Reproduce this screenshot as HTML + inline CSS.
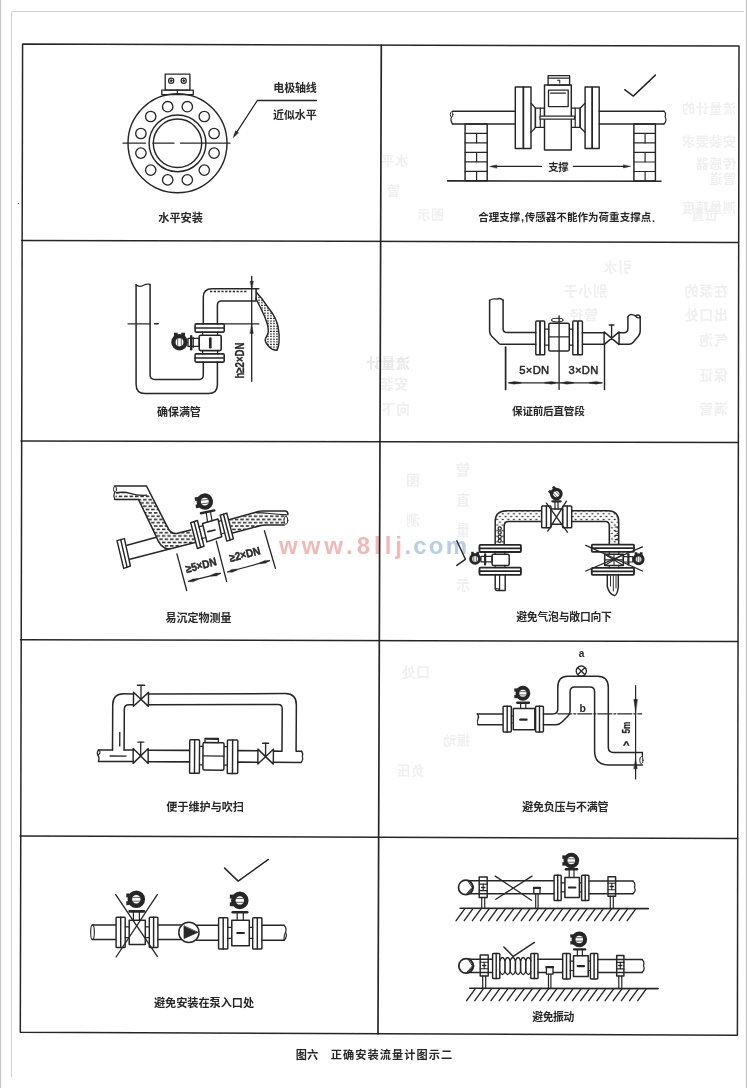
<!DOCTYPE html>
<html><head><meta charset="utf-8"><title>fig</title><style>html,body{margin:0;padding:0;background:#fff;overflow:hidden}svg{display:block}</style></head><body>
<svg width="747" height="1088" viewBox="0 0 747 1088">
<defs><filter id="bl" x="-5%" y="-5%" width="110%" height="110%"><feGaussianBlur stdDeviation="0.35"/></filter><filter id="bl2" x="-5%" y="-20%" width="110%" height="140%"><feGaussianBlur stdDeviation="0.5"/></filter></defs>
<rect x="0" y="0" width="747" height="1088" fill="#ffffff"/>
<rect x="0" y="0" width="1.1" height="1088" fill="#c6c6c6"/>
<rect x="745.8" y="0" width="1.2" height="1088" fill="#c4c4c4"/>
<path d="M11.5 1077V11.5H744" fill="none" stroke="#d2d2d2" stroke-width="1"/>
<g font-family="&quot;Liberation Sans&quot;, &quot;Noto Sans CJK SC&quot;, sans-serif" font-weight="bold" font-size="13" letter-spacing="0.65" fill="#f0f0f0">
<g filter="url(#bl2)"><text transform="translate(736 112.94) scale(-1 1)">流量计的</text></g>
<g filter="url(#bl2)"><text transform="translate(736 145.94) scale(-1 1)">安装要求</text></g>
<g filter="url(#bl2)"><text transform="translate(736 167.94) scale(-1 1)">传感器</text></g>
<g filter="url(#bl2)"><text transform="translate(736 182.94) scale(-1 1)">管道</text></g>
<g filter="url(#bl2)"><text transform="translate(736 211.94) scale(-1 1)">测量精度</text></g>
<g filter="url(#bl2)"><text transform="translate(408 164.94) scale(-1 1)">水平</text></g>
<g filter="url(#bl2)"><text transform="translate(400 194.94) scale(-1 1)">管</text></g>
<g filter="url(#bl2)"><text transform="translate(444 218.94) scale(-1 1)">图示</text></g>
<g filter="url(#bl2)"><text transform="translate(718 218.94) scale(-1 1)">位置</text></g>
</g>
<g font-family="&quot;Liberation Sans&quot;, &quot;Noto Sans CJK SC&quot;, sans-serif" font-weight="bold" font-size="14" letter-spacing="0.7" fill="#f0f0f0">
<g filter="url(#bl2)"><text transform="translate(632 272.32) scale(-1 1)">引水</text></g>
<g filter="url(#bl2)"><text transform="translate(607 296.32) scale(-1 1)">别小于</text></g>
<g filter="url(#bl2)"><text transform="translate(598 320.32) scale(-1 1)">管径</text></g>
<g filter="url(#bl2)"><text transform="translate(728 296.32) scale(-1 1)">在泵的</text></g>
<g filter="url(#bl2)"><text transform="translate(728 320.32) scale(-1 1)">出口处</text></g>
<g filter="url(#bl2)"><text transform="translate(728 345.32) scale(-1 1)">气泡</text></g>
<g filter="url(#bl2)"><text transform="translate(410 368.32) scale(-1 1)" fill="#e8e8e8">流量计</text></g>
<g filter="url(#bl2)"><text transform="translate(408 389.32) scale(-1 1)">安装</text></g>
<g filter="url(#bl2)"><text transform="translate(410 414.32) scale(-1 1)">向下</text></g>
<g filter="url(#bl2)"><text transform="translate(728 380.32) scale(-1 1)">保证</text></g>
<g filter="url(#bl2)"><text transform="translate(728 414.32) scale(-1 1)">满管</text></g>
<g filter="url(#bl2)"><text transform="translate(470 475.32) scale(-1 1)">管</text></g>
<g filter="url(#bl2)"><text transform="translate(470 505.32) scale(-1 1)">直</text></g>
<g filter="url(#bl2)"><text transform="translate(470 535.32) scale(-1 1)">量</text></g>
<g filter="url(#bl2)"><text transform="translate(470 590.32) scale(-1 1)">示</text></g>
<g filter="url(#bl2)"><text transform="translate(420 485.32) scale(-1 1)">图</text></g>
<g filter="url(#bl2)"><text transform="translate(420 525.32) scale(-1 1)">测</text></g>
<g filter="url(#bl2)"><text transform="translate(430 677.32) scale(-1 1)">口处</text></g>
</g>
<g font-family="&quot;Liberation Sans&quot;, &quot;Noto Sans CJK SC&quot;, sans-serif" font-weight="bold" font-size="13" letter-spacing="0.65" fill="#f0f0f0">
<g filter="url(#bl2)"><text transform="translate(424 774.94) scale(-1 1)">负压</text></g>
<g filter="url(#bl2)"><text transform="translate(470 744.94) scale(-1 1)">振动</text></g>
</g>
<g filter="url(#bl2)" font-family="&quot;Liberation Sans&quot;, sans-serif" font-weight="bold" font-size="24"><text x="279" y="553.5" fill="#f0b9b6" textLength="123" lengthAdjust="spacing">www.8llj</text><text x="404.5" y="553.5" fill="#b9cde5" textLength="62.5" lengthAdjust="spacing">.com</text></g>
<g filter="url(#bl)" stroke-linecap="round" stroke-linejoin="round">
<path d="M22.6 44.0L739.0 46.1L737.4 1035.2L20.3 1032.3Z" fill="none" stroke="#282828" stroke-width="1.50" />
<path d="M21.7 240.4L738.2 242.5" fill="none" stroke="#282828" stroke-width="1.50" />
<path d="M21.0 440.9L738.0 442.5" fill="none" stroke="#282828" stroke-width="1.50" />
<path d="M20.5 639.7L737.8 641.5" fill="none" stroke="#282828" stroke-width="1.50" />
<path d="M20.1 835.9L737.6 838.5" fill="none" stroke="#282828" stroke-width="1.50" />
<path d="M381.3 45.0L378.0 1034.0" fill="none" stroke="#282828" stroke-width="1.70" />
<circle cx="18.4" cy="203.6" r="0.7" fill="#555"/>
<circle cx="177.5" cy="143.3" r="49.5" fill="none" stroke="#282828" stroke-width="1.46" />
<circle cx="177.5" cy="143.3" r="28.4" fill="none" stroke="#282828" stroke-width="1.46" />
<circle cx="177.5" cy="143.3" r="24.2" fill="none" stroke="#282828" stroke-width="1.46" />
<circle cx="187.3" cy="106.7" r="5.2" fill="none" stroke="#282828" stroke-width="1.34" />
<circle cx="204.3" cy="116.5" r="5.2" fill="none" stroke="#282828" stroke-width="1.34" />
<circle cx="214.1" cy="133.5" r="5.2" fill="none" stroke="#282828" stroke-width="1.34" />
<circle cx="214.1" cy="153.1" r="5.2" fill="none" stroke="#282828" stroke-width="1.34" />
<circle cx="204.3" cy="170.1" r="5.2" fill="none" stroke="#282828" stroke-width="1.34" />
<circle cx="187.3" cy="179.9" r="5.2" fill="none" stroke="#282828" stroke-width="1.34" />
<circle cx="167.7" cy="179.9" r="5.2" fill="none" stroke="#282828" stroke-width="1.34" />
<circle cx="150.7" cy="170.1" r="5.2" fill="none" stroke="#282828" stroke-width="1.34" />
<circle cx="140.9" cy="153.1" r="5.2" fill="none" stroke="#282828" stroke-width="1.34" />
<circle cx="140.9" cy="133.5" r="5.2" fill="none" stroke="#282828" stroke-width="1.34" />
<circle cx="150.7" cy="116.5" r="5.2" fill="none" stroke="#282828" stroke-width="1.34" />
<circle cx="167.7" cy="106.7" r="5.2" fill="none" stroke="#282828" stroke-width="1.34" />
<path d="M123.0 143.2L145.5 143.2" fill="none" stroke="#282828" stroke-width="1.22" />
<path d="M153.0 143.2L174.0 143.2" fill="none" stroke="#282828" stroke-width="1.22" />
<path d="M180.5 143.2L230.0 143.2" fill="none" stroke="#282828" stroke-width="1.22" />
<rect x="165.2" y="74.1" width="24.7" height="16.0" fill="none" stroke="#282828" stroke-width="1.34" />
<rect x="161.8" y="90.1" width="31.5" height="4.5" fill="none" stroke="#282828" stroke-width="1.34" />
<path d="M177.4 90.1L177.4 94.6" fill="none" stroke="#282828" stroke-width="1.22" />
<circle cx="171.2" cy="80.7" r="2.6" fill="none" stroke="#282828" stroke-width="1.22" />
<circle cx="171.2" cy="80.7" r="0.9" fill="#282828" stroke="#282828" stroke-width="0.98" />
<circle cx="183.7" cy="80.7" r="2.6" fill="none" stroke="#282828" stroke-width="1.22" />
<circle cx="183.7" cy="80.7" r="0.9" fill="#282828" stroke="#282828" stroke-width="0.98" />
<path d="M316.4 100.5H257.3L234.5 135.6" fill="none" stroke="#282828" stroke-width="1.34" />
<path d="M233.2 137.6L235.6 130.8L238.4 132.7Z" fill="#282828" stroke="#282828" stroke-width="0.4"/>
<text x="273.3" y="91.69" font-family="&quot;Liberation Sans&quot;, &quot;Noto Sans CJK SC&quot;, sans-serif" font-size="11" font-weight="bold" letter-spacing="-0.15" fill="#282828">电极轴线</text>
<text x="273" y="119.19" font-family="&quot;Liberation Sans&quot;, &quot;Noto Sans CJK SC&quot;, sans-serif" font-size="11" font-weight="bold" letter-spacing="-0.1" fill="#282828">近似水平</text>
<text x="158.3" y="222.27" font-family="&quot;Liberation Sans&quot;, &quot;Noto Sans CJK SC&quot;, sans-serif" font-size="11.2" font-weight="bold" letter-spacing="-0.05" fill="#282828">水平安装</text>
<path d="M515.3 111.2H452.5 M515.3 123.9H452.5" fill="none" stroke="#282828" stroke-width="1.46" />
<ellipse cx="451.6" cy="114.5" rx="1.3" ry="2.6" fill="none" stroke="#282828" stroke-width="1"/>
<path d="M451.5 117.2Q450 120 452.5 123.9" fill="none" stroke="#282828" stroke-width="1.22" />
<path d="M599.2 111.2H664 M599.2 123.9H664" fill="none" stroke="#282828" stroke-width="1.46" />
<path d="M664 111.2Q666.5 113 665 116.5Q667.5 120.5 664 123.9" fill="none" stroke="#282828" stroke-width="1.22" />
<rect x="515.3" y="87.1" width="8.1" height="61.3" fill="none" stroke="#282828" stroke-width="1.46" />
<rect x="523.4" y="87.1" width="7.6" height="61.3" fill="none" stroke="#282828" stroke-width="1.46" />
<rect x="585.1" y="87.1" width="7.1" height="61.3" fill="none" stroke="#282828" stroke-width="1.46" />
<rect x="592.2" y="87.1" width="7.0" height="61.3" fill="none" stroke="#282828" stroke-width="1.46" />
<path d="M531 103.2Q533.5 105.5 535.4 108.2V127.3Q533.5 130 531 132.3" fill="none" stroke="#282828" stroke-width="1.34" />
<rect x="535.4" y="108.2" width="9.1" height="19.1" fill="none" stroke="#282828" stroke-width="1.34" />
<path d="M540.3 108.2L540.3 127.3" fill="none" stroke="#282828" stroke-width="1.22" />
<path d="M585.1 103.2Q582.6 105.5 580.1 108.2V127.3Q582.6 130 585.1 132.3" fill="none" stroke="#282828" stroke-width="1.34" />
<rect x="571.3" y="108.2" width="8.8" height="19.1" fill="none" stroke="#282828" stroke-width="1.34" />
<path d="M575.2 108.2L575.2 127.3" fill="none" stroke="#282828" stroke-width="1.22" />
<rect x="544.5" y="85.1" width="26.8" height="64.9" fill="#fff" stroke="#282828" stroke-width="1.46" />
<rect x="548.5" y="90.1" width="19.7" height="16.5" fill="none" stroke="#282828" stroke-width="1.34" />
<path d="M550.5 93.1L565.5 93.1" fill="none" stroke="#282828" stroke-width="1.22" />
<rect x="548.1" y="75.7" width="21.5" height="9.4" fill="none" stroke="#282828" stroke-width="1.34" />
<path d="M548.1 78.1L569.6 78.1" fill="none" stroke="#282828" stroke-width="1.10" />
<path d="M557.5 80.3h2.2v2.6" fill="none" stroke="#282828" stroke-width="1.10" />
<rect x="540.0" y="116.2" width="34.6" height="3.0" fill="#fff" stroke="#282828" stroke-width="1.22" />
<rect x="465.1" y="123.9" width="22.1" height="56.9" fill="none" stroke="#282828" stroke-width="1.46" />
<path d="M465.1 133.4L487.2 133.4" fill="none" stroke="#282828" stroke-width="1.22" />
<path d="M465.1 142.9L487.2 142.9" fill="none" stroke="#282828" stroke-width="1.22" />
<path d="M465.1 152.4L487.2 152.4" fill="none" stroke="#282828" stroke-width="1.22" />
<path d="M465.1 161.8L487.2 161.8" fill="none" stroke="#282828" stroke-width="1.22" />
<path d="M465.1 171.3L487.2 171.3" fill="none" stroke="#282828" stroke-width="1.22" />
<path d="M476.6 133.4L476.6 142.9" fill="none" stroke="#282828" stroke-width="1.22" />
<path d="M476.6 152.4L476.6 161.8" fill="none" stroke="#282828" stroke-width="1.22" />
<path d="M476.6 171.3L476.6 180.8" fill="none" stroke="#282828" stroke-width="1.22" />
<rect x="633.9" y="123.9" width="21.5" height="57.1" fill="none" stroke="#282828" stroke-width="1.46" />
<path d="M633.9 133.4L655.4 133.4" fill="none" stroke="#282828" stroke-width="1.22" />
<path d="M633.9 142.9L655.4 142.9" fill="none" stroke="#282828" stroke-width="1.22" />
<path d="M633.9 152.4L655.4 152.4" fill="none" stroke="#282828" stroke-width="1.22" />
<path d="M633.9 162.0L655.4 162.0" fill="none" stroke="#282828" stroke-width="1.22" />
<path d="M633.9 171.5L655.4 171.5" fill="none" stroke="#282828" stroke-width="1.22" />
<path d="M645.1 133.4L645.1 142.9" fill="none" stroke="#282828" stroke-width="1.22" />
<path d="M645.1 152.4L645.1 162.0" fill="none" stroke="#282828" stroke-width="1.22" />
<path d="M645.1 171.5L645.1 181.0" fill="none" stroke="#282828" stroke-width="1.22" />
<path d="M447.7 180.9L661.0 181.3" fill="none" stroke="#282828" stroke-width="1.59" />
<path d="M492.0 166.4L541.4 166.4" fill="none" stroke="#282828" stroke-width="1.34" />
<path d="M489.8 166.4L496.8 164.9L496.8 167.9Z" fill="#282828" stroke="#282828" stroke-width="0.4"/>
<path d="M573.5 166.4L628.0 166.4" fill="none" stroke="#282828" stroke-width="1.34" />
<path d="M630.3 166.4L623.3 167.9L623.3 164.9Z" fill="#282828" stroke="#282828" stroke-width="0.4"/>
<text x="548.3" y="170.54" font-family="&quot;Liberation Sans&quot;, &quot;Noto Sans CJK SC&quot;, sans-serif" font-size="10.4" font-weight="bold" letter-spacing="-0.4" fill="#282828">支撑</text>
<path d="M624.7 89.7L633.3 96.1L655.4 75.1" fill="none" stroke="#282828" stroke-width="1.46" />
<text x="478.2" y="221.48" font-family="&quot;Liberation Sans&quot;, &quot;Noto Sans CJK SC&quot;, sans-serif" font-size="10.5" font-weight="bold" letter-spacing="0.05" fill="#282828">合理支撑</text>
<text x="521.0" y="221.3" font-family="Liberation Sans, sans-serif" font-size="11" font-weight="bold" text-anchor="start" fill="#282828" letter-spacing="0" >,</text>
<text x="524.7" y="221.48" font-family="&quot;Liberation Sans&quot;, &quot;Noto Sans CJK SC&quot;, sans-serif" font-size="10.5" font-weight="bold" letter-spacing="0.05" fill="#282828">传感器不能作为荷重支撑点</text>
<text x="651.9" y="221.5" font-family="Liberation Sans, sans-serif" font-size="11" font-weight="bold" text-anchor="start" fill="#282828" letter-spacing="0" >.</text>
<path d="M136.1 284.8V384.4Q136.1 393.5 145.1 393.5H208.4Q217.4 393.5 217.4 384.4V361.9" fill="none" stroke="#282828" stroke-width="1.52" />
<path d="M150.1 284.4V375Q150.1 379.4 154.6 379.4H199.3Q203.3 379.4 203.3 375V361.9" fill="none" stroke="#282828" stroke-width="1.52" />
<path d="M136.1 284.8Q139 287.5 143 285.5T150.1 284.4" fill="none" stroke="#282828" stroke-width="1.34" />
<rect x="195.1" y="323.9" width="29.1" height="8.2" fill="none" stroke="#282828" stroke-width="1.59" rx="1"/>
<path d="M195.1 328.0L224.2 328.0" fill="none" stroke="#282828" stroke-width="1.59" />
<rect x="195.1" y="353.9" width="29.1" height="8.2" fill="none" stroke="#282828" stroke-width="1.59" rx="1"/>
<path d="M195.1 358.0L224.2 358.0" fill="none" stroke="#282828" stroke-width="1.59" />
<path d="M202.6 332.1L202.6 335.2" fill="none" stroke="#282828" stroke-width="1.22" />
<path d="M217.6 332.1L217.6 335.2" fill="none" stroke="#282828" stroke-width="1.22" />
<path d="M202.6 350.6L202.6 353.9" fill="none" stroke="#282828" stroke-width="1.22" />
<path d="M217.6 350.6L217.6 353.9" fill="none" stroke="#282828" stroke-width="1.22" />
<rect x="199.2" y="335.2" width="22.0" height="15.4" fill="none" stroke="#282828" stroke-width="1.59" rx="1.5"/>
<path d="M210.3 338.6L210.3 347.2" fill="none" stroke="#282828" stroke-width="2.68" />
<g transform="rotate(0 179.5 342.2)">
<circle cx="179.5" cy="342.2" r="6.1" fill="none" stroke="#282828" stroke-width="4.32" />
<path d="M177.7 339.0L177.7 345.4" fill="none" stroke="#282828" stroke-width="0.73" />
<path d="M181.3 339.0L181.3 345.4" fill="none" stroke="#282828" stroke-width="0.73" />
<rect x="174.0" y="332.7" width="3.7" height="3.2" fill="#282828"/>
<rect x="181.3" y="332.7" width="3.7" height="3.2" fill="#282828"/>
</g>
<rect x="188.0" y="338.4" width="11.2" height="8.0" fill="none" stroke="#282828" stroke-width="1.34" />
<path d="M191.2 336.1L191.2 349.2" fill="none" stroke="#282828" stroke-width="2.44" />
<path d="M193.3 337.4L193.3 347.6" fill="none" stroke="#282828" stroke-width="1.22" />
<path d="M203.3 323.9V297.1Q203.3 288.8 212 288.8H258.8" fill="none" stroke="#282828" stroke-width="1.52" />
<path d="M217.4 323.9V305.1Q217.4 300.9 221.5 300.9H256.1V288.8" fill="none" stroke="#282828" stroke-width="1.52" />
<path d="M210.0 291.6L248.0 291.6" fill="none" stroke="#282828" stroke-width="1.46" stroke-dasharray="2.2 1.6" stroke-linecap="butt"/>
<path d="M128.0 323.8L150.1 323.8" fill="none" stroke="#282828" stroke-width="1.34" />
<path d="M154.5 323.8L158.2 323.8" fill="none" stroke="#282828" stroke-width="1.46" />
<path d="M224.2 323.9L258.8 323.9" fill="none" stroke="#282828" stroke-width="1.34" />
<path d="M251.7 276.4L251.7 381.3" fill="none" stroke="#282828" stroke-width="1.34" />
<path d="M251.7 288.8L250.1 281.3L253.3 281.3Z" fill="#282828" stroke="#282828" stroke-width="0.4"/>
<path d="M251.7 324.4L253.3 333.4L250.1 333.4Z" fill="#282828" stroke="#282828" stroke-width="0.4"/>
<text transform="translate(244.2 378.6) rotate(-90) scale(0.77 1)" font-family="Liberation Sans, sans-serif" font-size="12.5" font-weight="bold" fill="#282828" stroke="#282828" stroke-width="0.3">h≥2×DN</text>
<pattern id="dots" width="3" height="2.6" patternUnits="userSpaceOnUse"><rect x="0" y="0.6" width="1.9" height="1.1" fill="#2e2e2e"/></pattern>
<path d="M256.3 292.2C260 296 263.5 300.5 266.3 304.8C269 309 271.8 312 273.7 315.5C276.5 320.5 278 325 278.4 328.9C279.4 334 279.3 338 279 342.3C278.6 346 278 348.5 277 350.3C274.5 350.3 271 349.5 268 345.5C265.3 342.5 264.6 340.5 265.6 338.3C267.5 335 268.6 332.5 268.3 330.2C268.2 326.5 267.6 324 266.3 320.9C264.8 316.5 263 313 261 308.8C259 304.5 257.5 302 255.8 298.6" fill="url(#dots)" stroke="#282828" stroke-width="1.46" />
<text x="157.1" y="415.97" font-family="&quot;Liberation Sans&quot;, &quot;Noto Sans CJK SC&quot;, sans-serif" font-size="11" font-weight="bold" letter-spacing="-0.1" fill="#282828">确保满管</text>
<path d="M489.6 300.3V331Q489.6 334 491.5 336L499 343.5Q499.8 344.2 501 344.2H535.8" fill="none" stroke="#282828" stroke-width="1.52" />
<path d="M503.1 300.3V328.5Q503.1 332.6 507.3 332.6H535.8" fill="none" stroke="#282828" stroke-width="1.52" />
<path d="M489.6 300.3Q493 298.2 497 299.2Q500.5 297.5 503.1 300.3" fill="none" stroke="#282828" stroke-width="1.34" />
<rect x="535.8" y="321.1" width="4.2" height="33.6" fill="none" stroke="#282828" stroke-width="1.46" rx="0.8"/>
<rect x="540.0" y="321.1" width="4.7" height="33.6" fill="none" stroke="#282828" stroke-width="1.46" rx="0.8"/>
<rect x="572.8" y="321.1" width="5.0" height="33.6" fill="none" stroke="#282828" stroke-width="1.46" rx="0.8"/>
<rect x="577.8" y="321.1" width="4.6" height="33.6" fill="none" stroke="#282828" stroke-width="1.46" rx="0.8"/>
<path d="M544.7 329.2L548.9 329.2" fill="none" stroke="#282828" stroke-width="1.22" />
<path d="M544.7 345.2L548.9 345.2" fill="none" stroke="#282828" stroke-width="1.22" />
<path d="M569.4 329.2L572.8 329.2" fill="none" stroke="#282828" stroke-width="1.22" />
<path d="M569.4 345.2L572.8 345.2" fill="none" stroke="#282828" stroke-width="1.22" />
<rect x="548.8" y="323.3" width="20.5" height="27.8" fill="none" stroke="#282828" stroke-width="1.52" rx="1.5"/>
<path d="M548.9 336.8L569.4 336.8" fill="none" stroke="#282828" stroke-width="1.34" />
<ellipse cx="557.3" cy="320.1" rx="5.8" ry="1.9" fill="none" stroke="#282828" stroke-width="1.1"/>
<path d="M559.1 315.8L559.1 389.4" fill="none" stroke="#282828" stroke-width="1.34" />
<path d="M582.4 332.8L604.1 332.8" fill="none" stroke="#282828" stroke-width="1.52" />
<path d="M582.4 344.2L604.1 344.2" fill="none" stroke="#282828" stroke-width="1.52" />
<path d="M604.1 331.9V344.6L619.1 331.9V344.6Z" fill="none" stroke="#282828" stroke-width="1.46" />
<path d="M611.6 338.2L611.6 325.1" fill="none" stroke="#282828" stroke-width="1.34" />
<path d="M609.3 325.1L613.9 325.1" fill="none" stroke="#282828" stroke-width="1.46" />
<path d="M619.1 332.8H623.5Q627.9 332.8 627.9 328.5V316.8" fill="none" stroke="#282828" stroke-width="1.52" />
<path d="M619.1 344.2H629Q631.5 344.2 633 342.5L638.5 336Q640.2 334 640.2 331V316.8" fill="none" stroke="#282828" stroke-width="1.52" />
<path d="M627.9 316.8Q629 314.2 632 314.6Q634 315 635.5 316Q637.5 314.5 639.3 315.3Q640.6 316.3 639.6 317.6Q637.5 318.6 635.5 316" fill="none" stroke="#282828" stroke-width="1.34" />
<path d="M505.6 347.2L505.6 389.4" fill="none" stroke="#282828" stroke-width="1.71" />
<path d="M604.5 344.6L604.5 389.4" fill="none" stroke="#282828" stroke-width="1.46" />
<path d="M509.0 382.8L602.0 382.8" fill="none" stroke="#282828" stroke-width="1.22" />
<path d="M508.2 382.8L514.0 381.4L521.2 382.3L521.2 383.3L514.0 384.2Z" fill="#282828" stroke="#282828" stroke-width="0.3"/>
<path d="M557.6 382.8L551.8 384.2L544.6 383.3L544.6 382.3L551.8 381.4Z" fill="#282828" stroke="#282828" stroke-width="0.3"/>
<path d="M560.8 382.8L566.6 381.4L573.8 382.3L573.8 383.3L566.6 384.2Z" fill="#282828" stroke="#282828" stroke-width="0.3"/>
<path d="M602.3 382.8L596.4 384.2L589.3 383.3L589.3 382.3L596.4 381.4Z" fill="#282828" stroke="#282828" stroke-width="0.3"/>
<text x="519.2" y="373.9" font-family="Liberation Sans, sans-serif" font-size="11.2" font-weight="normal" text-anchor="start" fill="#282828" letter-spacing="0.35" stroke="#282828" stroke-width="0.5">5×DN</text>
<text x="568.4" y="373.9" font-family="Liberation Sans, sans-serif" font-size="11.2" font-weight="normal" text-anchor="start" fill="#282828" letter-spacing="0.35" stroke="#282828" stroke-width="0.5">3×DN</text>
<text x="512.1" y="414.89" font-family="&quot;Liberation Sans&quot;, &quot;Noto Sans CJK SC&quot;, sans-serif" font-size="10.6" font-weight="bold" letter-spacing="-0.25" fill="#282828">保证前后直管段</text>
<pattern id="liq" width="5.4" height="6.6" patternUnits="userSpaceOnUse"><rect x="0" y="0.6" width="3.4" height="1.5" fill="#1c1c1c"/><rect x="2.7" y="3.9" width="3.4" height="1.5" fill="#1c1c1c" /><rect x="-2.7" y="3.9" width="3.4" height="1.5" fill="#1c1c1c" /></pattern>
<path d="M116.4 493.2L146.5 495.1 L150 493.2L167.9 527.9Q170.5 533.5 176 533.5L190.7 529.9L196 542.6L168.6 549.3Q161 548 157.5 539.5L138.5 499.4H114.8Z" fill="url(#liq)" stroke="none"/>
<path d="M229 520.5L254.8 513.2L286.5 515.2L285 524.9H262L232.7 533Z" fill="url(#liq)" stroke="none"/>
<path d="M114.5 486H146.5L167.9 527.9Q170.5 533.9 176.5 533.4L190.7 529.9" fill="none" stroke="#282828" stroke-width="1.52" />
<path d="M114.8 499.4H138.5L156.5 537.2Q160 547.5 168.6 549.3" fill="none" stroke="#282828" stroke-width="1.52" />
<path d="M116.4 492.6Q125 491.5 131 493.6T146.8 495.2" fill="none" stroke="#282828" stroke-width="1.34" />
<ellipse cx="115" cy="489.3" rx="1.5" ry="2.9" fill="#fff" stroke="#282828" stroke-width="1"/>
<path d="M114.6 492.5Q113 496 114.8 499.4" fill="none" stroke="#282828" stroke-width="1.22" />
<path d="M127.1 545.3L156.3 537.3" fill="none" stroke="#282828" stroke-width="1.52" />
<path d="M129.8 559.3L168.6 549.3L196 542.3" fill="none" stroke="#282828" stroke-width="1.52" />
<path d="M117.0 540.6L124.4 538.6L130.4 566.0L123.7 568.4Z" fill="#fff" stroke="#282828" stroke-width="1.46" />
<path d="M120.7 539.6L127.1 567.2" fill="none" stroke="#282828" stroke-width="1.46" />
<path d="M190.7 522.7L197.4 520.5L204.0 546.3L197.4 548.5Z" fill="#fff" stroke="#282828" stroke-width="1.46" />
<path d="M194.1 521.6L200.7 547.4" fill="none" stroke="#282828" stroke-width="1.46" />
<path d="M220.2 515.3L226.8 513.1L233.4 538.9L226.8 541.1Z" fill="#fff" stroke="#282828" stroke-width="1.46" />
<path d="M223.5 514.2L230.1 540.0" fill="none" stroke="#282828" stroke-width="1.46" />
<path d="M202.5 523.4L218.0 519.0L221.7 536.7L206.9 541.9Z" fill="#fff" stroke="#282828" stroke-width="1.52" />
<path d="M198.8 526.8L202.9 525.6" fill="none" stroke="#282828" stroke-width="1.22" />
<path d="M201.6 538.6L205.6 537.5" fill="none" stroke="#282828" stroke-width="1.22" />
<path d="M218.6 521.3L221.6 520.5" fill="none" stroke="#282828" stroke-width="1.22" />
<path d="M221.2 534.0L224.6 533.0" fill="none" stroke="#282828" stroke-width="1.22" />
<path d="M207.9 531.7L215.0 530.0" fill="none" stroke="#282828" stroke-width="1.71" />
<g transform="rotate(-97 204.8 501.6)">
<circle cx="204.8" cy="501.6" r="6.1" fill="none" stroke="#282828" stroke-width="4.32" />
<path d="M203.0 498.4L203.0 504.8" fill="none" stroke="#282828" stroke-width="0.73" />
<path d="M206.6 498.4L206.6 504.8" fill="none" stroke="#282828" stroke-width="0.73" />
<rect x="199.3" y="492.1" width="3.7" height="3.2" fill="#282828"/>
<rect x="206.6" y="492.1" width="3.7" height="3.2" fill="#282828"/>
</g>
<path d="M201.0 513.3L214.3 510.4" fill="none" stroke="#282828" stroke-width="2.44" />
<path d="M206.2 512.5L207.6 522.0" fill="none" stroke="#282828" stroke-width="1.22" />
<path d="M210.4 511.6L212.0 520.7" fill="none" stroke="#282828" stroke-width="1.22" />
<path d="M229 519.8L254.8 512.4Q258 510.9 262 510.9H285.5Q288.3 511.5 287.8 514.6" fill="none" stroke="#282828" stroke-width="1.52" />
<path d="M232.7 533L259.2 526Q262 524.9 266 524.9H284.3" fill="none" stroke="#282828" stroke-width="1.52" />
<path d="M254.8 512.7Q262 512.6 270 513.5T286.5 514.9" fill="none" stroke="#282828" stroke-width="1.22" />
<ellipse cx="285.9" cy="520.3" rx="1.9" ry="4.0" fill="#fff" stroke="#282828" stroke-width="1"/>
<path d="M176.9 553.9L186.7 590.5" fill="none" stroke="#282828" stroke-width="1.34" />
<path d="M216.3 541.1L226.6 581.4" fill="none" stroke="#282828" stroke-width="1.34" />
<path d="M264.4 530.8L275.4 568.4" fill="none" stroke="#282828" stroke-width="1.34" />
<path d="M188.4 581.4L220.5 573.4" fill="none" stroke="#282828" stroke-width="1.22" />
<path d="M188.4 581.4L192.4 578.9L198.0 578.5L198.2 579.5L193.1 581.8Z" fill="#282828" stroke="#282828" stroke-width="0.3"/>
<path d="M220.5 573.4L216.5 575.9L210.9 576.3L210.7 575.3L215.8 573.0Z" fill="#282828" stroke="#282828" stroke-width="0.3"/>
<path d="M227.6 572.0L269.5 560.7" fill="none" stroke="#282828" stroke-width="1.22" />
<path d="M227.6 572.0L231.6 569.4L237.1 568.9L237.4 569.9L232.3 572.3Z" fill="#282828" stroke="#282828" stroke-width="0.3"/>
<path d="M269.5 560.7L265.5 563.3L260.0 563.8L259.7 562.8L264.8 560.4Z" fill="#282828" stroke="#282828" stroke-width="0.3"/>
<text transform="translate(186.8 572.9) rotate(-14.5) scale(0.89 1)" font-family="Liberation Sans, sans-serif" font-size="11.3" font-weight="bold" fill="#282828" stroke="#282828" stroke-width="0.45">≥5×DN</text>
<text transform="translate(230.6 562.0) rotate(-14.5) scale(0.89 1)" font-family="Liberation Sans, sans-serif" font-size="11.3" font-weight="bold" fill="#282828" stroke="#282828" stroke-width="0.45">≥2×DN</text>
<text x="165.4" y="622.47" font-family="&quot;Liberation Sans&quot;, &quot;Noto Sans CJK SC&quot;, sans-serif" font-size="11" font-weight="bold" letter-spacing="0" fill="#282828">易沉定物测量</text>
<pattern id="bub" width="5.6" height="5.6" patternUnits="userSpaceOnUse"><rect x="0.6" y="0.8" width="1.9" height="1.2" fill="#222"/><rect x="3.4" y="3.6" width="1.9" height="1.2" fill="#222"/></pattern>
<path d="M495.2 544.3V521.5Q495.2 510.7 506.5 510.7H608Q618.7 510.7 618.7 521.8V544.3H609.3V526Q609.3 521.6 605.5 521.6H508.8Q504.2 521.6 504.2 526.2V544.3Z" fill="url(#bub)" stroke="none"/>
<circle cx="499.7" cy="528.5" r="1.6" fill="#fff" stroke="#282828" stroke-width="1.22" />
<circle cx="499.7" cy="532.6" r="1.6" fill="#fff" stroke="#282828" stroke-width="1.22" />
<circle cx="499.7" cy="536.7" r="1.6" fill="#fff" stroke="#282828" stroke-width="1.22" />
<circle cx="499.7" cy="540.8" r="1.6" fill="#fff" stroke="#282828" stroke-width="1.22" />
<path d="M495.2 544.3V521.5Q495.2 510.7 506.5 510.7H541.7 M571.7 510.7H608Q618.7 510.7 618.7 521.8V544.3" fill="none" stroke="#282828" stroke-width="1.52" />
<path d="M504.2 544.3V526.2Q504.2 521.6 508.8 521.6H541.7 M571.7 521.6H605.5Q609.3 521.6 609.3 526V544.3" fill="none" stroke="#282828" stroke-width="1.52" />
<rect x="541.7" y="506.1" width="9.3" height="21.7" fill="#fff" stroke="#282828" stroke-width="1.46" rx="0.8"/>
<path d="M546.4 506.1L546.4 527.8" fill="none" stroke="#282828" stroke-width="1.46" />
<rect x="562.6" y="506.1" width="9.1" height="21.7" fill="#fff" stroke="#282828" stroke-width="1.46" rx="0.8"/>
<path d="M567.2 506.1L567.2 527.8" fill="none" stroke="#282828" stroke-width="1.46" />
<rect x="551.0" y="509.1" width="11.6" height="15.1" fill="#fff" stroke="#282828" stroke-width="1.46" />
<path d="M546.4 503.1L567.4 532.2" fill="none" stroke="#282828" stroke-width="1.34" />
<path d="M566.4 501.1L547.8 531.2" fill="none" stroke="#282828" stroke-width="1.34" />
<g transform="rotate(-45 556.3 494.1)">
<circle cx="556.3" cy="494.1" r="4.7" fill="none" stroke="#282828" stroke-width="3.33" />
<path d="M554.9 491.6L554.9 496.6" fill="none" stroke="#282828" stroke-width="0.73" />
<path d="M557.7 491.6L557.7 496.6" fill="none" stroke="#282828" stroke-width="0.73" />
<rect x="552.1" y="486.5" width="2.8" height="3.2" fill="#282828"/>
<rect x="557.7" y="486.5" width="2.8" height="3.2" fill="#282828"/>
</g>
<path d="M552.3 501.3L560.6 501.3" fill="none" stroke="#282828" stroke-width="2.20" />
<path d="M555.0 501.3L555.0 509.1" fill="none" stroke="#282828" stroke-width="1.22" />
<path d="M558.0 501.3L558.0 509.1" fill="none" stroke="#282828" stroke-width="1.22" />
<rect x="479.5" y="544.8" width="41.4" height="7.2" fill="#fff" stroke="#282828" stroke-width="1.83" rx="0.8"/>
<path d="M479.5 548.4L520.9 548.4" fill="none" stroke="#282828" stroke-width="1.83" />
<rect x="479.5" y="567.6" width="41.4" height="7.2" fill="#fff" stroke="#282828" stroke-width="1.83" rx="0.8"/>
<path d="M479.5 571.2L520.9 571.2" fill="none" stroke="#282828" stroke-width="1.83" />
<path d="M495.2 551.3L495.2 554.3" fill="none" stroke="#282828" stroke-width="1.22" />
<path d="M504.8 551.3L504.8 554.3" fill="none" stroke="#282828" stroke-width="1.22" />
<path d="M495.2 565.4L495.2 567.4" fill="none" stroke="#282828" stroke-width="1.22" />
<path d="M504.8 565.4L504.8 567.4" fill="none" stroke="#282828" stroke-width="1.22" />
<rect x="492.1" y="554.3" width="17.1" height="11.1" fill="#fff" stroke="#282828" stroke-width="1.52" rx="1.5"/>
<g transform="rotate(0 475.1 558.9)">
<circle cx="475.1" cy="558.9" r="4.4" fill="none" stroke="#282828" stroke-width="3.07" />
<path d="M473.8 556.6L473.8 561.2" fill="none" stroke="#282828" stroke-width="0.73" />
<path d="M476.4 556.6L476.4 561.2" fill="none" stroke="#282828" stroke-width="0.73" />
<rect x="471.2" y="551.8" width="2.6" height="3.2" fill="#282828"/>
<rect x="476.4" y="551.8" width="2.6" height="3.2" fill="#282828"/>
</g>
<rect x="481.0" y="556.4" width="11.1" height="5.4" fill="none" stroke="#282828" stroke-width="1.22" />
<path d="M485.1 554.3L485.1 564.4" fill="none" stroke="#282828" stroke-width="2.20" />
<path d="M495.2 574.4V588.5Q495.6 590.8 498 590.3 M505.2 574.4V590.5H498" fill="none" stroke="#282828" stroke-width="1.46" />
<path d="M499.6 575.5L499.6 589.5" fill="none" stroke="#282828" stroke-width="1.22" />
<ellipse cx="497.4" cy="589.6" rx="2" ry="1.2" fill="none" stroke="#282828" stroke-width="0.9"/>
<path d="M456.8 540.8L465.4 559.3L456.8 565.4" fill="none" stroke="#282828" stroke-width="1.46" />
<rect x="591.8" y="544.6" width="42.2" height="7.2" fill="#fff" stroke="#282828" stroke-width="1.83" rx="0.8"/>
<path d="M591.8 548.2L634.0 548.2" fill="none" stroke="#282828" stroke-width="1.83" />
<rect x="591.8" y="567.8" width="42.2" height="7.0" fill="#fff" stroke="#282828" stroke-width="1.83" rx="0.8"/>
<path d="M591.8 571.3L634.0 571.3" fill="none" stroke="#282828" stroke-width="1.83" />
<path d="M609.3 551.3L609.3 554.3" fill="none" stroke="#282828" stroke-width="1.22" />
<path d="M618.7 551.3L618.7 554.3" fill="none" stroke="#282828" stroke-width="1.22" />
<path d="M609.3 565.4L609.3 567.8" fill="none" stroke="#282828" stroke-width="1.22" />
<path d="M618.7 565.4L618.7 567.8" fill="none" stroke="#282828" stroke-width="1.22" />
<rect x="604.7" y="554.3" width="18.6" height="11.1" fill="#fff" stroke="#282828" stroke-width="1.52" />
<path d="M604.7 554.3L623.3 565.4" fill="none" stroke="#282828" stroke-width="1.22" />
<path d="M604.7 565.4L623.3 554.3" fill="none" stroke="#282828" stroke-width="1.22" />
<path d="M604.7 559.8L623.3 559.8" fill="none" stroke="#282828" stroke-width="1.22" />
<path d="M614.0 554.3L614.0 565.4" fill="none" stroke="#282828" stroke-width="1.10" />
<g transform="rotate(0 638.6 559.3)">
<circle cx="638.6" cy="559.3" r="4.4" fill="none" stroke="#282828" stroke-width="3.07" />
<path d="M637.3 557.0L637.3 561.6" fill="none" stroke="#282828" stroke-width="0.73" />
<path d="M639.9 557.0L639.9 561.6" fill="none" stroke="#282828" stroke-width="0.73" />
<rect x="634.7" y="552.2" width="2.6" height="3.2" fill="#282828"/>
<rect x="639.9" y="552.2" width="2.6" height="3.2" fill="#282828"/>
</g>
<rect x="623.3" y="556.6" width="9.5" height="5.4" fill="none" stroke="#282828" stroke-width="1.22" />
<path d="M628.4 554.3L628.4 564.6" fill="none" stroke="#282828" stroke-width="2.20" />
<path d="M585.8 545.3L642.4 571.0" fill="none" stroke="#282828" stroke-width="1.34" />
<path d="M585.8 571.0L642.4 546.9" fill="none" stroke="#282828" stroke-width="1.34" />
<path d="M607.3 574.4V586.5Q609 594 614.5 595.6Q617.5 594.5 618.3 587V574.4" fill="none" stroke="#282828" stroke-width="1.46" />
<path d="M610.5 576V586 M613.3 576V591 M616 576V588" fill="none" stroke="#282828" stroke-width="0.98" />
<path d="M615.2 527.0L618.2 527.0" fill="none" stroke="#282828" stroke-width="1.10" />
<path d="M615.2 531.2L618.2 531.2" fill="none" stroke="#282828" stroke-width="1.10" />
<path d="M615.2 535.4L618.2 535.4" fill="none" stroke="#282828" stroke-width="1.10" />
<path d="M615.2 539.6L618.2 539.6" fill="none" stroke="#282828" stroke-width="1.10" />
<text x="516.2" y="620.89" font-family="&quot;Liberation Sans&quot;, &quot;Noto Sans CJK SC&quot;, sans-serif" font-size="10.8" font-weight="bold" letter-spacing="-0.18" fill="#282828">避免气泡与敞口向下</text>
<g transform="rotate(0.3 98 750)">
<path d="M98.5 749.9H112.5 M124.1 749.9H133.2 M98.5 761.4H133.2" fill="none" stroke="#282828" stroke-width="1.52" />
<path d="M98.5 749.9Q96.3 752.9 98 755.4Q100 757.9 98.5 761.4" fill="none" stroke="#282828" stroke-width="1.22" />
<path d="M98.5 749.9Q100.5 750.9 100 752.9Q99 754.4 98 755.4" fill="none" stroke="#282828" stroke-width="1.10" />
<path d="M110.1 755.9L126.1 755.9" fill="none" stroke="#282828" stroke-width="1.34" />
<path d="M119.7 732.2L119.7 745.9" fill="none" stroke="#282828" stroke-width="1.34" />
<path d="M133.2 748.3V763.2L148.2 748.3V763.2Z" fill="none" stroke="#282828" stroke-width="1.46" />
<path d="M140.7 755.8L140.7 741.9" fill="none" stroke="#282828" stroke-width="1.34" />
<path d="M137.7 741.9L143.7 741.9" fill="none" stroke="#282828" stroke-width="1.46" />
<path d="M148.2 749.9H189.8 M148.2 761.4H189.8" fill="none" stroke="#282828" stroke-width="1.52" />
<path d="M112.5 749.9V705Q112.5 693.7 123.5 693.7H133.2" fill="none" stroke="#282828" stroke-width="1.52" />
<path d="M124.1 749.9V709Q124.1 704.5 128.8 704.5H133.2" fill="none" stroke="#282828" stroke-width="1.52" />
<path d="M133.2 692.1V706.1L148.2 692.1V706.1Z" fill="none" stroke="#282828" stroke-width="1.46" />
<path d="M140.7 699.1L140.7 685.1" fill="none" stroke="#282828" stroke-width="1.34" />
<path d="M137.1 685.1L144.3 685.1" fill="none" stroke="#282828" stroke-width="1.46" />
<path d="M148.2 693.7L285 692.6Q296.1 692.6 296.1 704V750.2H301.5" fill="none" stroke="#282828" stroke-width="1.52" />
<path d="M148.2 704.5L278 703.6Q282 703.6 282 708V750.2H273.4" fill="none" stroke="#282828" stroke-width="1.52" />
<rect x="189.7" y="739.3" width="9.8" height="33.5" fill="#fff" stroke="#282828" stroke-width="1.46" rx="0.8"/>
<path d="M194.6 739.3L194.6 772.8" fill="none" stroke="#282828" stroke-width="1.46" />
<rect x="227.4" y="739.3" width="10.4" height="33.5" fill="#fff" stroke="#282828" stroke-width="1.46" rx="0.8"/>
<path d="M232.6 739.3L232.6 772.8" fill="none" stroke="#282828" stroke-width="1.46" />
<path d="M199.5 745.9L203.0 745.9" fill="none" stroke="#282828" stroke-width="1.22" />
<path d="M199.5 764.4L203.0 764.4" fill="none" stroke="#282828" stroke-width="1.22" />
<path d="M224.0 745.9L227.4 745.9" fill="none" stroke="#282828" stroke-width="1.22" />
<path d="M224.0 764.4L227.4 764.4" fill="none" stroke="#282828" stroke-width="1.22" />
<rect x="203.0" y="742.0" width="21.0" height="27.5" fill="#fff" stroke="#282828" stroke-width="1.52" rx="1.5"/>
<path d="M203.0 755.4L224.0 755.4" fill="none" stroke="#282828" stroke-width="1.34" />
<rect x="205.0" y="737.8" width="13.3" height="4.2" fill="none" stroke="#282828" stroke-width="1.34" />
<path d="M206.0 738.3L217.3 738.3" fill="none" stroke="#282828" stroke-width="1.95" />
<path d="M237.8 749.9H257.9 M237.8 761.4H257.9" fill="none" stroke="#282828" stroke-width="1.52" />
<path d="M257.9 748.3V763.2L273.4 748.3V763.2Z" fill="none" stroke="#282828" stroke-width="1.46" />
<path d="M265.6 755.8L265.6 742.3" fill="none" stroke="#282828" stroke-width="1.34" />
<path d="M262.6 742.3L268.6 742.3" fill="none" stroke="#282828" stroke-width="1.46" />
<path d="M273.4 761.4H301" fill="none" stroke="#282828" stroke-width="1.52" />
<path d="M301.5 750.2Q303.6 752.5 302.3 755.5Q303.8 758.5 301 761.4" fill="none" stroke="#282828" stroke-width="1.22" />
</g>
<text x="166.3" y="810.77" font-family="&quot;Liberation Sans&quot;, &quot;Noto Sans CJK SC&quot;, sans-serif" font-size="11.1" font-weight="bold" letter-spacing="0" fill="#282828">便于维护与吹扫</text>
<path d="M477.3 713.9H503.2 M478 724.7H503.2" fill="none" stroke="#282828" stroke-width="1.52" />
<path d="M477.3 713.9Q479.5 716.4 478 718.9T478 724.7" fill="none" stroke="#282828" stroke-width="1.22" />
<rect x="503.1" y="706.3" width="8.2" height="25.6" fill="#fff" stroke="#282828" stroke-width="1.46" rx="0.8"/>
<path d="M507.2 706.3L507.2 731.9" fill="none" stroke="#282828" stroke-width="1.46" />
<rect x="535.6" y="706.3" width="7.8" height="25.6" fill="#fff" stroke="#282828" stroke-width="1.46" rx="0.8"/>
<path d="M539.5 706.3L539.5 731.9" fill="none" stroke="#282828" stroke-width="1.46" />
<path d="M511.3 716.0L513.3 716.0" fill="none" stroke="#282828" stroke-width="1.22" />
<path d="M511.3 723.0L513.3 723.0" fill="none" stroke="#282828" stroke-width="1.22" />
<rect x="513.3" y="708.5" width="21.5" height="21.2" fill="#fff" stroke="#282828" stroke-width="1.52" />
<path d="M520.2 719.7L526.6 719.7" fill="none" stroke="#282828" stroke-width="2.20" />
<g transform="rotate(-90 522.9 693.3)">
<circle cx="522.9" cy="693.3" r="5.5" fill="none" stroke="#282828" stroke-width="3.85" />
<path d="M521.3 690.5L521.3 696.1" fill="none" stroke="#282828" stroke-width="0.73" />
<path d="M524.5 690.5L524.5 696.1" fill="none" stroke="#282828" stroke-width="0.73" />
<rect x="518.0" y="684.7" width="3.3" height="3.2" fill="#282828"/>
<rect x="524.5" y="684.7" width="3.3" height="3.2" fill="#282828"/>
</g>
<path d="M517.3 702.8L528.9 702.8" fill="none" stroke="#282828" stroke-width="2.44" />
<path d="M520.6 702.8L520.6 708.5" fill="none" stroke="#282828" stroke-width="1.22" />
<path d="M525.8 702.8L525.8 708.5" fill="none" stroke="#282828" stroke-width="1.22" />
<path d="M543.4 713.9H553Q557.8 713.9 557.8 709V687.5Q557.8 676.3 567.5 676.3H597.5Q608.3 676.3 608.3 687.5V747.2Q608.3 752.4 613.5 752.4H642.4" fill="none" stroke="#282828" stroke-width="1.52" />
<path d="M543.4 724.7H556Q559.5 724.7 562 722L568 716Q570.1 714 570.1 711V692Q570.1 687.1 574.6 687.1H590Q594.6 687.1 594.6 692V751Q594.6 764.9 608.5 764.9H642.4" fill="none" stroke="#282828" stroke-width="1.52" />
<path d="M642.4 752.4L642.4 756.5" fill="none" stroke="#282828" stroke-width="1.34" />
<ellipse cx="641.4" cy="760.2" rx="1.6" ry="3.6" fill="none" stroke="#282828" stroke-width="1"/>
<path d="M557.8 713.8L641.7 713.8" fill="none" stroke="#282828" stroke-width="1.34" stroke-dasharray="14 2 2 2"/>
<path d="M635.6 685.7L635.6 779.0" fill="none" stroke="#282828" stroke-width="1.22" />
<path d="M635.6 712.3L633.8 699.3L637.4 699.3Z" fill="#282828" stroke="#282828" stroke-width="0.4"/>
<path d="M635.6 758.8L637.3 768.8L633.9 768.8Z" fill="#282828" stroke="#282828" stroke-width="0.4"/>
<circle cx="581.3" cy="671.1" r="5.1" fill="none" stroke="#282828" stroke-width="1.34" />
<path d="M577.9 667.7L584.7 674.5" fill="none" stroke="#282828" stroke-width="1.22" />
<path d="M577.9 674.5L584.7 667.7" fill="none" stroke="#282828" stroke-width="1.22" />
<text x="581.6" y="657.4" font-family="Liberation Sans, sans-serif" font-size="10" font-weight="bold" text-anchor="middle" fill="#282828" letter-spacing="0" >a</text>
<text x="582.8" y="711.5" font-family="Liberation Sans, sans-serif" font-size="10.5" font-weight="bold" text-anchor="middle" fill="#282828" letter-spacing="0" >b</text>
<text transform="translate(629.6 746) rotate(-90) scale(0.75 1)" font-family="Liberation Sans, sans-serif" font-size="11.5" font-weight="bold" fill="#282828" stroke="#282828" stroke-width="0.3">&gt;</text>
<text transform="translate(629.6 733.6) rotate(-90) scale(0.72 1)" font-family="Liberation Sans, sans-serif" font-size="11.5" font-weight="bold" fill="#282828" stroke="#282828" stroke-width="0.3">5m</text>
<text x="522.2" y="811.13" font-family="&quot;Liberation Sans&quot;, &quot;Noto Sans CJK SC&quot;, sans-serif" font-size="11" font-weight="bold" letter-spacing="-0.25" fill="#282828">避免负压与不满管</text>
<path d="M92.5 924.9H116.1 M92.5 939.6H116.1" fill="none" stroke="#282828" stroke-width="1.52" />
<ellipse cx="92.5" cy="932.25" rx="1.8" ry="7.350000000000023" fill="none" stroke="#282828" stroke-width="1.1"/>
<rect x="116.1" y="917.2" width="9.1" height="30.4" fill="#fff" stroke="#282828" stroke-width="1.46" rx="0.8"/>
<path d="M120.7 917.2L120.7 947.6" fill="none" stroke="#282828" stroke-width="1.46" />
<rect x="149.3" y="917.2" width="8.6" height="30.4" fill="#fff" stroke="#282828" stroke-width="1.46" rx="0.8"/>
<path d="M153.6 917.2L153.6 947.6" fill="none" stroke="#282828" stroke-width="1.46" />
<path d="M125.2 926.9L129.2 926.9" fill="none" stroke="#282828" stroke-width="1.22" />
<path d="M125.2 937.6L129.2 937.6" fill="none" stroke="#282828" stroke-width="1.22" />
<path d="M145.3 926.9L149.3 926.9" fill="none" stroke="#282828" stroke-width="1.22" />
<path d="M145.3 937.6L149.3 937.6" fill="none" stroke="#282828" stroke-width="1.22" />
<rect x="129.2" y="920.3" width="16.1" height="24.1" fill="#fff" stroke="#282828" stroke-width="1.52" />
<g transform="rotate(-90 136.3 899.3)">
<circle cx="136.3" cy="899.3" r="6.5" fill="none" stroke="#282828" stroke-width="4.58" />
<path d="M134.4 895.9L134.4 902.7" fill="none" stroke="#282828" stroke-width="0.73" />
<path d="M138.2 895.9L138.2 902.7" fill="none" stroke="#282828" stroke-width="0.73" />
<rect x="130.5" y="889.3" width="3.9" height="3.2" fill="#282828"/>
<rect x="138.2" y="889.3" width="3.9" height="3.2" fill="#282828"/>
</g>
<path d="M129.8 911.4L143.9 911.4" fill="none" stroke="#282828" stroke-width="2.93" />
<path d="M133.4 911.2L133.4 920.3" fill="none" stroke="#282828" stroke-width="1.22" />
<path d="M139.4 911.2L139.4 920.3" fill="none" stroke="#282828" stroke-width="1.22" />
<path d="M115.7 894.6L157.3 956.4" fill="none" stroke="#282828" stroke-width="1.34" />
<path d="M157.3 894.6L116.1 957.0" fill="none" stroke="#282828" stroke-width="1.34" />
<path d="M157.9 924.9H181.5 M157.9 939.6H181.5" fill="none" stroke="#282828" stroke-width="1.52" />
<circle cx="188.9" cy="932.4" r="10.1" fill="#fff" stroke="#282828" stroke-width="1.52" />
<path d="M184 926.2V938.6L197.6 932.4Z" fill="#282828" stroke="#282828" stroke-width="0.8"/>
<path d="M196.5 925.3H218.6 M196.5 940.3H218.6" fill="none" stroke="#282828" stroke-width="1.52" />
<rect x="218.6" y="917.7" width="9.2" height="31.3" fill="#fff" stroke="#282828" stroke-width="1.46" rx="0.8"/>
<path d="M223.2 917.7L223.2 949.0" fill="none" stroke="#282828" stroke-width="1.46" />
<rect x="252.7" y="917.7" width="9.2" height="31.3" fill="#fff" stroke="#282828" stroke-width="1.46" rx="0.8"/>
<path d="M257.3 917.7L257.3 949.0" fill="none" stroke="#282828" stroke-width="1.46" />
<path d="M227.8 927.3L231.8 927.3" fill="none" stroke="#282828" stroke-width="1.22" />
<path d="M227.8 938.3L231.8 938.3" fill="none" stroke="#282828" stroke-width="1.22" />
<path d="M249.3 927.3L252.7 927.3" fill="none" stroke="#282828" stroke-width="1.22" />
<path d="M249.3 938.3L252.7 938.3" fill="none" stroke="#282828" stroke-width="1.22" />
<rect x="231.8" y="920.3" width="17.5" height="25.5" fill="#fff" stroke="#282828" stroke-width="1.52" />
<path d="M237.2 933.0L243.9 933.0" fill="none" stroke="#282828" stroke-width="2.07" />
<g transform="rotate(-90 239.8 900.4)">
<circle cx="239.8" cy="900.4" r="6.5" fill="none" stroke="#282828" stroke-width="4.58" />
<path d="M237.9 897.0L237.9 903.8" fill="none" stroke="#282828" stroke-width="0.73" />
<path d="M241.7 897.0L241.7 903.8" fill="none" stroke="#282828" stroke-width="0.73" />
<rect x="234.0" y="890.4" width="3.9" height="3.2" fill="#282828"/>
<rect x="241.7" y="890.4" width="3.9" height="3.2" fill="#282828"/>
</g>
<path d="M232.6 912.2L247.3 912.2" fill="none" stroke="#282828" stroke-width="2.44" />
<path d="M237.2 912.2L237.2 920.3" fill="none" stroke="#282828" stroke-width="1.22" />
<path d="M243.3 912.2L243.3 920.3" fill="none" stroke="#282828" stroke-width="1.22" />
<path d="M261.9 925.3H284 M261.9 940.3H284" fill="none" stroke="#282828" stroke-width="1.52" />
<path d="M284 925.3Q287.2 928.3 285.5 932.3Q288 936.3 284 940.3" fill="none" stroke="#282828" stroke-width="1.22" />
<path d="M285.5 932.3Q283.5 936.3 284 940.3" fill="none" stroke="#282828" stroke-width="1.10" />
<path d="M224.6 868.1L238.2 881.1L268.4 859.4" fill="none" stroke="#282828" stroke-width="1.46" />
<text x="153.9" y="1006.87" font-family="&quot;Liberation Sans&quot;, &quot;Noto Sans CJK SC&quot;, sans-serif" font-size="11.2" font-weight="bold" letter-spacing="-0.05" fill="#282828">避免安装在泵入口处</text>
<path d="M468 880.8H554.1 M470 893.8H554.1" fill="none" stroke="#282828" stroke-width="1.52" />
<circle cx="465.8" cy="887.4" r="7.3" fill="#fff" stroke="#282828" stroke-width="1.71" />
<path d="M469.6 880.5L473.5 887.4L467.6 894.4" fill="none" stroke="#282828" stroke-width="1.46" />
<path d="M468.0 881.0L472.1 887.4L466.4 893.9" fill="none" stroke="#282828" stroke-width="0.98" />
<rect x="479.2" y="877.1" width="8.0" height="20.5" fill="none" stroke="#282828" stroke-width="1.46" />
<path d="M479.2 884.1L487.2 884.1" fill="none" stroke="#282828" stroke-width="1.10" />
<path d="M479.2 890.6L487.2 890.6" fill="none" stroke="#282828" stroke-width="1.10" />
<path d="M483.2 884.1L483.2 890.6" fill="none" stroke="#282828" stroke-width="1.10" />
<path d="M481.6 887.4L484.8 887.4" fill="none" stroke="#282828" stroke-width="1.46" />
<path d="M481.7 897.6L481.7 908.3" fill="none" stroke="#282828" stroke-width="1.22" />
<path d="M484.7 897.6L484.7 908.3" fill="none" stroke="#282828" stroke-width="1.22" />
<path d="M495.2 876.1L531.4 900.2" fill="none" stroke="#282828" stroke-width="1.34" />
<path d="M532.0 876.1L495.8 899.2" fill="none" stroke="#282828" stroke-width="1.34" />
<rect x="533.8" y="887.4" width="6.2" height="6.2" fill="#fff" stroke="#282828" stroke-width="1.34" />
<path d="M533.8 888.0L540.0 888.0" fill="none" stroke="#282828" stroke-width="2.20" />
<path d="M535.7 893.6L535.7 908.3" fill="none" stroke="#282828" stroke-width="1.22" />
<path d="M538.1 893.6L538.1 908.3" fill="none" stroke="#282828" stroke-width="1.22" />
<rect x="554.1" y="875.3" width="7.1" height="25.3" fill="#fff" stroke="#282828" stroke-width="1.46" rx="0.8"/>
<path d="M557.7 875.3L557.7 900.6" fill="none" stroke="#282828" stroke-width="1.46" />
<rect x="581.6" y="875.3" width="7.3" height="25.3" fill="#fff" stroke="#282828" stroke-width="1.46" rx="0.8"/>
<path d="M585.2 875.3L585.2 900.6" fill="none" stroke="#282828" stroke-width="1.46" />
<path d="M561.2 882.8L564.9 882.8" fill="none" stroke="#282828" stroke-width="1.22" />
<path d="M561.2 891.8L564.9 891.8" fill="none" stroke="#282828" stroke-width="1.22" />
<path d="M579.4 882.8L581.6 882.8" fill="none" stroke="#282828" stroke-width="1.22" />
<path d="M579.4 891.8L581.6 891.8" fill="none" stroke="#282828" stroke-width="1.22" />
<rect x="564.9" y="877.6" width="14.5" height="19.8" fill="#fff" stroke="#282828" stroke-width="1.52" />
<path d="M568.9 887.5L575.4 887.5" fill="none" stroke="#282828" stroke-width="2.07" />
<g transform="rotate(-90 571.3 860.5)">
<circle cx="571.3" cy="860.5" r="5.8" fill="none" stroke="#282828" stroke-width="4.06" />
<path d="M569.6 857.5L569.6 863.5" fill="none" stroke="#282828" stroke-width="0.73" />
<path d="M573.0 857.5L573.0 863.5" fill="none" stroke="#282828" stroke-width="0.73" />
<rect x="566.2" y="851.5" width="3.4" height="3.2" fill="#282828"/>
<rect x="573.0" y="851.5" width="3.4" height="3.2" fill="#282828"/>
</g>
<path d="M566.0 869.3L577.0 869.3" fill="none" stroke="#282828" stroke-width="2.56" />
<path d="M569.2 869.3L569.2 877.6" fill="none" stroke="#282828" stroke-width="1.22" />
<path d="M574.0 869.3L574.0 877.6" fill="none" stroke="#282828" stroke-width="1.22" />
<path d="M588.8 881.0999999999999H633 M588.8 893.8H633" fill="none" stroke="#282828" stroke-width="1.52" />
<path d="M633 881.0999999999999Q636 883.8 634.4 887.3Q636.5 890.8 633 893.8" fill="none" stroke="#282828" stroke-width="1.22" />
<rect x="608.0" y="876.8" width="7.6" height="19.4" fill="none" stroke="#282828" stroke-width="1.46" />
<path d="M608.0 883.3L615.6 883.3" fill="none" stroke="#282828" stroke-width="1.10" />
<path d="M608.0 889.7L615.6 889.7" fill="none" stroke="#282828" stroke-width="1.10" />
<path d="M611.8 883.3L611.8 889.7" fill="none" stroke="#282828" stroke-width="1.10" />
<path d="M610.2 886.5L613.4 886.5" fill="none" stroke="#282828" stroke-width="1.46" />
<path d="M610.3 896.2L610.3 908.5" fill="none" stroke="#282828" stroke-width="1.22" />
<path d="M613.3 896.2L613.3 908.5" fill="none" stroke="#282828" stroke-width="1.22" />
<path d="M460.1 908.3L648.4 908.6" fill="none" stroke="#282828" stroke-width="1.59" />
<path d="M464.5 909.1L456.1 920.7" fill="none" stroke="#282828" stroke-width="1.40" />
<path d="M472.6 909.1L464.2 920.7" fill="none" stroke="#282828" stroke-width="1.40" />
<path d="M480.8 909.1L472.4 920.7" fill="none" stroke="#282828" stroke-width="1.40" />
<path d="M488.9 909.1L480.5 920.7" fill="none" stroke="#282828" stroke-width="1.40" />
<path d="M497.1 909.1L488.7 920.7" fill="none" stroke="#282828" stroke-width="1.40" />
<path d="M505.2 909.1L496.8 920.7" fill="none" stroke="#282828" stroke-width="1.40" />
<path d="M513.4 909.1L505.0 920.7" fill="none" stroke="#282828" stroke-width="1.40" />
<path d="M521.5 909.1L513.1 920.7" fill="none" stroke="#282828" stroke-width="1.40" />
<path d="M529.7 909.1L521.3 920.7" fill="none" stroke="#282828" stroke-width="1.40" />
<path d="M537.8 909.1L529.4 920.7" fill="none" stroke="#282828" stroke-width="1.40" />
<path d="M546.0 909.1L537.6 920.7" fill="none" stroke="#282828" stroke-width="1.40" />
<path d="M554.1 909.1L545.7 920.7" fill="none" stroke="#282828" stroke-width="1.40" />
<path d="M562.3 909.1L553.9 920.7" fill="none" stroke="#282828" stroke-width="1.40" />
<path d="M570.4 909.1L562.0 920.7" fill="none" stroke="#282828" stroke-width="1.40" />
<path d="M578.6 909.1L570.2 920.7" fill="none" stroke="#282828" stroke-width="1.40" />
<path d="M586.7 909.1L578.3 920.7" fill="none" stroke="#282828" stroke-width="1.40" />
<path d="M594.9 909.1L586.5 920.7" fill="none" stroke="#282828" stroke-width="1.40" />
<path d="M603.0 909.1L594.6 920.7" fill="none" stroke="#282828" stroke-width="1.40" />
<path d="M611.2 909.1L602.8 920.7" fill="none" stroke="#282828" stroke-width="1.40" />
<path d="M619.3 909.1L610.9 920.7" fill="none" stroke="#282828" stroke-width="1.40" />
<path d="M627.5 909.1L619.1 920.7" fill="none" stroke="#282828" stroke-width="1.40" />
<path d="M635.6 909.1L627.2 920.7" fill="none" stroke="#282828" stroke-width="1.40" />
<path d="M468 959.2H492.6 M470 972.5H492.6" fill="none" stroke="#282828" stroke-width="1.52" />
<circle cx="466.1" cy="965.9" r="7.3" fill="#fff" stroke="#282828" stroke-width="1.71" />
<path d="M469.9 959.0L473.8 965.9L467.9 972.9" fill="none" stroke="#282828" stroke-width="1.46" />
<path d="M468.3 959.5L472.4 965.9L466.7 972.4" fill="none" stroke="#282828" stroke-width="0.98" />
<rect x="480.2" y="955.0" width="8.0" height="20.9" fill="none" stroke="#282828" stroke-width="1.46" />
<path d="M480.2 962.2L488.2 962.2" fill="none" stroke="#282828" stroke-width="1.10" />
<path d="M480.2 968.7L488.2 968.7" fill="none" stroke="#282828" stroke-width="1.10" />
<path d="M484.2 962.2L484.2 968.7" fill="none" stroke="#282828" stroke-width="1.10" />
<path d="M482.6 965.5L485.8 965.5" fill="none" stroke="#282828" stroke-width="1.46" />
<path d="M482.7 975.9L482.7 988.0" fill="none" stroke="#282828" stroke-width="1.22" />
<path d="M485.7 975.9L485.7 988.0" fill="none" stroke="#282828" stroke-width="1.22" />
<rect x="492.6" y="953.4" width="7.2" height="25.1" fill="#fff" stroke="#282828" stroke-width="1.46" rx="0.8"/>
<path d="M496.2 953.4L496.2 978.5" fill="none" stroke="#282828" stroke-width="1.46" />
<rect x="530.8" y="953.4" width="7.2" height="25.1" fill="#fff" stroke="#282828" stroke-width="1.46" rx="0.8"/>
<path d="M534.4 953.4L534.4 978.5" fill="none" stroke="#282828" stroke-width="1.46" />
<path d="M499.8 960.5Q502.4 954.5 505.0 960.5Q507.6 954.5 510.2 960.5Q512.8 954.5 515.4 960.5Q518.0 954.5 520.6 960.5Q523.2 954.5 525.8 960.5Q528.4 954.5 531.0 960.5" fill="none" stroke="#282828" stroke-width="1.34" />
<path d="M499.8 971.5Q502.4 977.5 505.0 971.5Q507.6 977.5 510.2 971.5Q512.8 977.5 515.4 971.5Q518.0 977.5 520.6 971.5Q523.2 977.5 525.8 971.5Q528.4 977.5 531.0 971.5" fill="none" stroke="#282828" stroke-width="1.34" />
<path d="M505.0 960.3L505.0 971.7" fill="none" stroke="#282828" stroke-width="1.59" />
<path d="M510.2 960.3L510.2 971.7" fill="none" stroke="#282828" stroke-width="1.59" />
<path d="M515.4 960.3L515.4 971.7" fill="none" stroke="#282828" stroke-width="1.59" />
<path d="M520.6 960.3L520.6 971.7" fill="none" stroke="#282828" stroke-width="1.59" />
<path d="M525.8 960.3L525.8 971.7" fill="none" stroke="#282828" stroke-width="1.59" />
<path d="M538 959.2H562.9 M538 972.5H562.9" fill="none" stroke="#282828" stroke-width="1.52" />
<rect x="546.4" y="966.6" width="6.6" height="7.6" fill="#fff" stroke="#282828" stroke-width="1.34" />
<path d="M546.4 967.2L553.0 967.2" fill="none" stroke="#282828" stroke-width="2.20" />
<path d="M548.5 974.2L548.5 988.3" fill="none" stroke="#282828" stroke-width="1.22" />
<path d="M550.9 974.2L550.9 988.3" fill="none" stroke="#282828" stroke-width="1.22" />
<rect x="562.7" y="953.4" width="7.6" height="25.5" fill="#fff" stroke="#282828" stroke-width="1.46" rx="0.8"/>
<path d="M566.5 953.4L566.5 978.9" fill="none" stroke="#282828" stroke-width="1.46" />
<rect x="590.4" y="953.4" width="7.4" height="25.5" fill="#fff" stroke="#282828" stroke-width="1.46" rx="0.8"/>
<path d="M594.1 953.4L594.1 978.9" fill="none" stroke="#282828" stroke-width="1.46" />
<path d="M570.3 961.2L573.5 961.2" fill="none" stroke="#282828" stroke-width="1.22" />
<path d="M570.3 970.5L573.5 970.5" fill="none" stroke="#282828" stroke-width="1.22" />
<path d="M588.2 961.2L590.4 961.2" fill="none" stroke="#282828" stroke-width="1.22" />
<path d="M588.2 970.5L590.4 970.5" fill="none" stroke="#282828" stroke-width="1.22" />
<rect x="573.5" y="955.8" width="14.7" height="20.7" fill="#fff" stroke="#282828" stroke-width="1.52" />
<path d="M577.6 966.1L584.1 966.1" fill="none" stroke="#282828" stroke-width="2.07" />
<g transform="rotate(-90 579.3 939.4)">
<circle cx="579.3" cy="939.4" r="5.8" fill="none" stroke="#282828" stroke-width="4.06" />
<path d="M577.6 936.4L577.6 942.4" fill="none" stroke="#282828" stroke-width="0.73" />
<path d="M581.0 936.4L581.0 942.4" fill="none" stroke="#282828" stroke-width="0.73" />
<rect x="574.2" y="930.4" width="3.4" height="3.2" fill="#282828"/>
<rect x="581.0" y="930.4" width="3.4" height="3.2" fill="#282828"/>
</g>
<path d="M574.1 949.4L585.2 949.4" fill="none" stroke="#282828" stroke-width="2.32" />
<path d="M577.4 949.4L577.4 955.8" fill="none" stroke="#282828" stroke-width="1.22" />
<path d="M582.4 949.4L582.4 955.8" fill="none" stroke="#282828" stroke-width="1.22" />
<path d="M597.8 959.5H642 M597.8 972.5H642" fill="none" stroke="#282828" stroke-width="1.52" />
<path d="M642 959.5Q645 962.2 643.4 965.7Q645.5 969.2 642 972.5" fill="none" stroke="#282828" stroke-width="1.22" />
<rect x="616.7" y="955.4" width="7.2" height="20.5" fill="none" stroke="#282828" stroke-width="1.46" />
<path d="M616.7 962.4L623.9 962.4" fill="none" stroke="#282828" stroke-width="1.10" />
<path d="M616.7 968.9L623.9 968.9" fill="none" stroke="#282828" stroke-width="1.10" />
<path d="M620.3 962.4L620.3 968.9" fill="none" stroke="#282828" stroke-width="1.10" />
<path d="M618.7 965.6L621.9 965.6" fill="none" stroke="#282828" stroke-width="1.46" />
<path d="M618.8 975.9L618.8 988.2" fill="none" stroke="#282828" stroke-width="1.22" />
<path d="M621.8 975.9L621.8 988.2" fill="none" stroke="#282828" stroke-width="1.22" />
<path d="M469.7 988.3L658.1 988.6" fill="none" stroke="#282828" stroke-width="1.59" />
<path d="M475.0 989.1L466.6 1000.7" fill="none" stroke="#282828" stroke-width="1.40" />
<path d="M483.1 989.1L474.8 1000.7" fill="none" stroke="#282828" stroke-width="1.40" />
<path d="M491.3 989.1L482.9 1000.7" fill="none" stroke="#282828" stroke-width="1.40" />
<path d="M499.4 989.1L491.0 1000.7" fill="none" stroke="#282828" stroke-width="1.40" />
<path d="M507.6 989.1L499.2 1000.7" fill="none" stroke="#282828" stroke-width="1.40" />
<path d="M515.7 989.1L507.3 1000.7" fill="none" stroke="#282828" stroke-width="1.40" />
<path d="M523.9 989.1L515.5 1000.7" fill="none" stroke="#282828" stroke-width="1.40" />
<path d="M532.0 989.1L523.6 1000.7" fill="none" stroke="#282828" stroke-width="1.40" />
<path d="M540.2 989.1L531.8 1000.7" fill="none" stroke="#282828" stroke-width="1.40" />
<path d="M548.3 989.1L539.9 1000.7" fill="none" stroke="#282828" stroke-width="1.40" />
<path d="M556.5 989.1L548.1 1000.7" fill="none" stroke="#282828" stroke-width="1.40" />
<path d="M564.6 989.1L556.2 1000.7" fill="none" stroke="#282828" stroke-width="1.40" />
<path d="M572.8 989.1L564.4 1000.7" fill="none" stroke="#282828" stroke-width="1.40" />
<path d="M580.9 989.1L572.5 1000.7" fill="none" stroke="#282828" stroke-width="1.40" />
<path d="M589.1 989.1L580.7 1000.7" fill="none" stroke="#282828" stroke-width="1.40" />
<path d="M597.2 989.1L588.8 1000.7" fill="none" stroke="#282828" stroke-width="1.40" />
<path d="M605.4 989.1L597.0 1000.7" fill="none" stroke="#282828" stroke-width="1.40" />
<path d="M613.5 989.1L605.1 1000.7" fill="none" stroke="#282828" stroke-width="1.40" />
<path d="M621.7 989.1L613.3 1000.7" fill="none" stroke="#282828" stroke-width="1.40" />
<path d="M629.8 989.1L621.4 1000.7" fill="none" stroke="#282828" stroke-width="1.40" />
<path d="M638.0 989.1L629.6 1000.7" fill="none" stroke="#282828" stroke-width="1.40" />
<path d="M646.1 989.1L637.7 1000.7" fill="none" stroke="#282828" stroke-width="1.40" />
<path d="M503.9 947L513.3 956.4L534.4 942.4" fill="none" stroke="#282828" stroke-width="1.46" />
<text x="532.3" y="1021.49" font-family="&quot;Liberation Sans&quot;, &quot;Noto Sans CJK SC&quot;, sans-serif" font-size="10.8" font-weight="bold" letter-spacing="-0.4" fill="#282828">避免振动</text>
<text x="295.8" y="1059.37" font-family="&quot;Liberation Sans&quot;, &quot;Noto Sans CJK SC&quot;, sans-serif" font-size="11.2" font-weight="bold" letter-spacing="0.1" fill="#282828">图六</text>
<text x="330.8" y="1059.37" font-family="&quot;Liberation Sans&quot;, &quot;Noto Sans CJK SC&quot;, sans-serif" font-size="11.2" font-weight="bold" letter-spacing="1.06" fill="#282828">正确安装流量计图示二</text>
</g>
</svg>
</body></html>
